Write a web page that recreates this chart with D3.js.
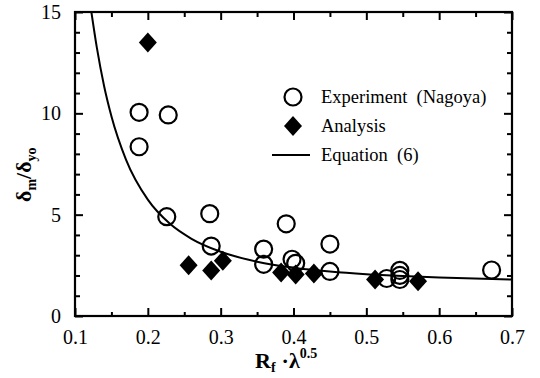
<html>
<head>
  <meta charset="utf-8" />
  <title>delta ratio vs Rf lambda</title>
  <style>
    body { margin: 0; background: white; }
  </style>
  <script src="https://d3js.org/d3.v7.min.js"></script>
</head>
<body>
<svg width="540" height="378" font-family="Liberation Serif"></svg>
<script>
  // Experiment (Nagoya) - open circles
  var expX = [0.188, 0.228, 0.188, 0.226, 0.285, 0.287, 0.359, 0.359, 0.390, 0.398, 0.403, 0.450, 0.450, 0.528, 0.546, 0.546, 0.546, 0.672]
  var expY = [10.05, 9.92, 8.35, 4.90, 5.05, 3.45, 3.30, 2.55, 4.55, 2.80, 2.60, 3.55, 2.20, 1.85, 2.25, 1.80, 2.00, 2.27]

  // Analysis - filled diamonds
  var anaX = [0.200, 0.256, 0.287, 0.303, 0.383, 0.403, 0.428, 0.512, 0.571]
  var anaY = [13.5, 2.50, 2.25, 2.72, 2.15, 2.05, 2.10, 1.80, 1.72]

  // Equation (6) curve
  var eqX = [0.1225, 0.13, 0.14, 0.15, 0.17, 0.20, 0.23, 0.26, 0.30, 0.35, 0.40, 0.45, 0.50, 0.55, 0.60, 0.70]
  var eqY = [15.0, 13.24, 11.34, 9.86, 7.72, 5.74, 4.56, 3.81, 3.17, 2.68, 2.38, 2.19, 2.06, 1.97, 1.90, 1.80]

  var xTicks = [0.1, 0.2, 0.3, 0.4, 0.5, 0.6, 0.7]
  var xMinor = [0.15, 0.25, 0.35, 0.45, 0.55, 0.65]
  var yTicks = [0, 5, 10, 15]
  var yMinor = [1, 2, 3, 4, 6, 7, 8, 9, 11, 12, 13, 14]

  var legendLabels = ["Experiment  (Nagoya)", "Analysis", "Equation  (6)"]

  var L = 75, R = 512, T = 12, B = 316
  var serif = "Liberation Serif"

  var svg = d3.select("svg")
  var x = d3.scaleLinear().domain([0.1, 0.7]).range([L, R])
  var y = d3.scaleLinear().domain([0, 15]).range([B, T])

  function styleAxis(g) {
    g.attr("font-family", serif).attr("font-size", 20)
    g.select(".domain").remove()
    g.selectAll("line").attr("stroke", "black").attr("stroke-width", 2)
    g.selectAll("text").attr("fill", "black").attr("font-family", serif)
  }

  // bottom axis
  svg.append("g").attr("transform", "translate(0," + B + ")")
    .call(d3.axisBottom(x).tickValues(xTicks).tickSize(-8).tickPadding(14).tickFormat(d3.format(".1f")))
    .call(styleAxis)
  svg.append("g").attr("transform", "translate(0," + B + ")")
    .call(d3.axisBottom(x).tickValues(xMinor).tickSize(-4).tickFormat(""))
    .call(styleAxis)
  // top axis
  svg.append("g").attr("transform", "translate(0," + T + ")")
    .call(d3.axisTop(x).tickValues(xTicks).tickSize(-8).tickFormat(""))
    .call(styleAxis)
  svg.append("g").attr("transform", "translate(0," + T + ")")
    .call(d3.axisTop(x).tickValues(xMinor).tickSize(-5).tickFormat(""))
    .call(styleAxis)
  // left axis
  svg.append("g").attr("transform", "translate(" + L + ",0)")
    .call(d3.axisLeft(y).tickValues(yTicks).tickSize(-8).tickPadding(14))
    .call(styleAxis)
  svg.append("g").attr("transform", "translate(" + L + ",0)")
    .call(d3.axisLeft(y).tickValues(yMinor).tickSize(-5).tickFormat(""))
    .call(styleAxis)
  // right axis
  svg.append("g").attr("transform", "translate(" + R + ",0)")
    .call(d3.axisRight(y).tickValues(yTicks).tickSize(-8).tickFormat(""))
    .call(styleAxis)
  svg.append("g").attr("transform", "translate(" + R + ",0)")
    .call(d3.axisRight(y).tickValues(yMinor).tickSize(-5).tickFormat(""))
    .call(styleAxis)

  // frame
  svg.append("rect").attr("x", L).attr("y", T).attr("width", R - L).attr("height", B - T)
    .attr("fill", "none").attr("stroke", "black").attr("stroke-width", 2.2)

  svg.append("clipPath").attr("id", "clip").append("rect")
    .attr("x", L).attr("y", T).attr("width", R - L).attr("height", B - T)

  // equation curve
  var line = d3.line().x(function (d) { return x(d[0]) }).y(function (d) { return y(d[1]) })
    .curve(d3.curveMonotoneX)
  svg.append("path").datum(d3.zip(eqX, eqY))
    .attr("d", line).attr("clip-path", "url(#clip)")
    .attr("fill", "none").attr("stroke", "black").attr("stroke-width", 2)

  var diamond = "M0,-10L9,0L0,10L-9,0Z"

  // analysis diamonds
  svg.append("g").selectAll("path").data(d3.zip(anaX, anaY)).enter().append("path")
    .attr("d", diamond)
    .attr("transform", function (d) { return "translate(" + x(d[0]) + "," + y(d[1]) + ")" })
    .attr("fill", "black")

  // experiment circles
  svg.append("g").selectAll("circle").data(d3.zip(expX, expY)).enter().append("circle")
    .attr("cx", function (d) { return x(d[0]) })
    .attr("cy", function (d) { return y(d[1]) })
    .attr("r", 8.5)
    .attr("fill", "none").attr("stroke", "black").attr("stroke-width", 2.2)

  // legend
  var lg = svg.append("g")
  lg.append("circle").attr("cx", 293).attr("cy", 97).attr("r", 8.5)
    .attr("fill", "none").attr("stroke", "black").attr("stroke-width", 2.2)
  lg.append("path").attr("d", diamond).attr("transform", "translate(293,126)").attr("fill", "black")
  lg.append("line").attr("x1", 272).attr("x2", 310).attr("y1", 155).attr("y2", 155)
    .attr("stroke", "black").attr("stroke-width", 2)
  lg.selectAll("text").data(legendLabels).enter().append("text")
    .attr("x", 321).attr("y", function (d, i) { return 103 + i * 29 })
    .attr("font-family", serif).attr("font-size", 18.5)
    .style("white-space", "pre")
    .text(function (d) { return d })

  // x axis title
  var xt = svg.append("text").attr("x", 255).attr("y", 368)
    .attr("font-family", serif).attr("font-size", 22).attr("font-weight", "bold")
  xt.append("tspan").text("R")
  xt.append("tspan").attr("dy", 4).attr("font-size", 14).text("f")
  xt.append("tspan").attr("dy", -4).attr("dx", 6).text("\u00b7\u03bb")
  xt.append("tspan").attr("dy", -10).attr("font-size", 14).text("0.5")

  // y axis title
  var yt = svg.append("text").attr("transform", "translate(31,202) rotate(-90)")
    .attr("font-family", serif).attr("font-size", 22).attr("font-weight", "bold")
  yt.append("tspan").text("\u03b4")
  yt.append("tspan").attr("dy", 5).attr("font-size", 14).text("m")
  yt.append("tspan").attr("dy", -5).text("/\u03b4")
  yt.append("tspan").attr("dy", 5).attr("font-size", 14).text("yo")
</script>
</body>
</html>
